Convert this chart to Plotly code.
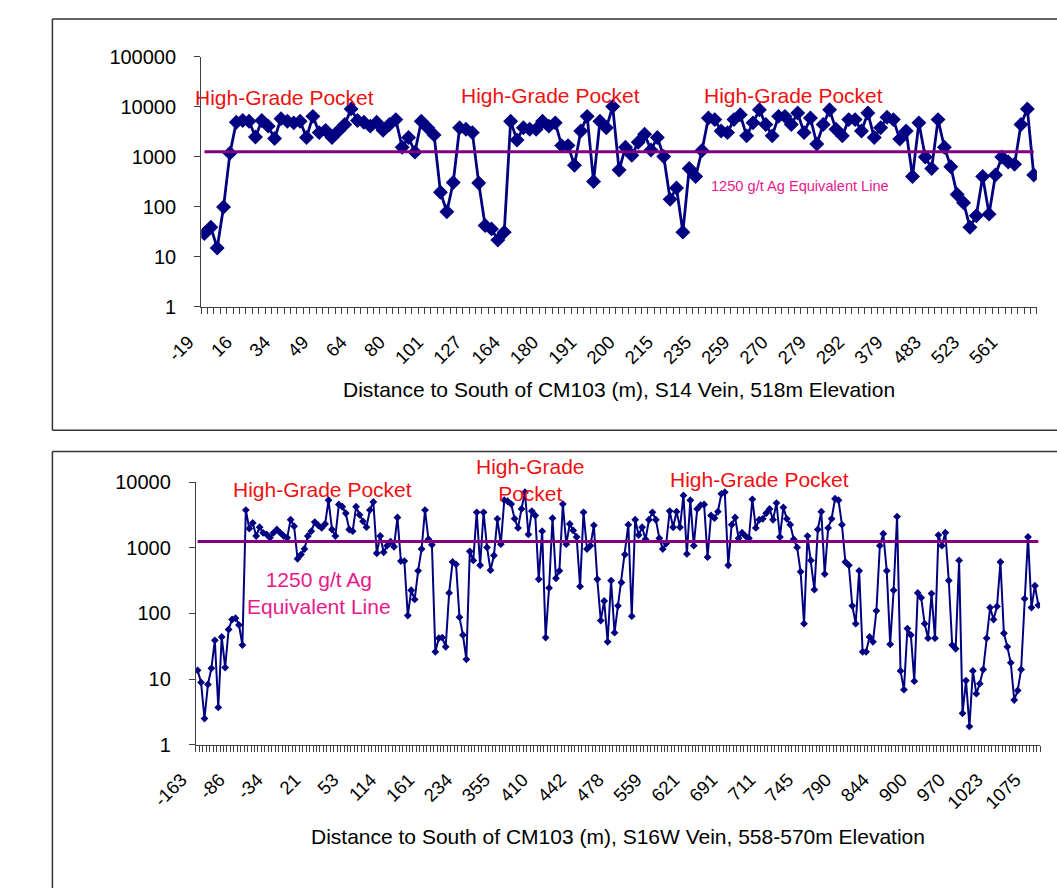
import numpy as np
import plotly.graph_objects as go

W, H = 1057, 888

# S14 Vein, 518m elevation: tick labels (every 6th sample) and Ag-equivalent grades (g/t)
top_tick_labels = ["-19", "16", "34", "49", "64", "80", "101", "127", "164", "180", "191",
                   "200", "215", "235", "259", "270", "279", "292", "379", "483", "523", "561"]
top_grade = [
    29, 39, 15, 99, 1175, 4870, 5250, 5090, 2480, 5250,
    4070, 2300, 5740, 5090, 4730, 5090, 2410, 6380, 3020, 3350,
    2410, 3250, 4390, 9000, 5250, 4870, 4070, 4870, 3350, 4390,
    5490, 1540, 2410, 1230, 5090, 3780, 2720, 195, 79, 305,
    3780, 3510, 3020, 296, 42, 36, 21.5, 31, 5090, 2140,
    3780, 3510, 3510, 5090, 4070, 4730, 1660, 1660, 675, 3250,
    6380, 319, 5090, 3780, 10000, 539, 1540, 1060, 1930, 2800,
    1360, 2410, 1010, 140, 237, 31, 581, 400, 1330, 5920,
    5490, 3250, 3020, 5490, 6870, 2600, 4730, 8610, 4390, 2600,
    6380, 6380, 4390, 7410, 3020, 5920, 1790, 4390, 8610, 3510,
    2600, 5490, 5490, 3250, 7410, 2410, 3780, 6100, 5490, 2240,
    3250, 400, 4730, 980, 581, 5490, 1540, 626, 175, 120,
    39, 66, 400, 71, 431, 980, 784, 706, 4390, 9000, 431,
]

# S16W Vein, 558-570m elevation: tick labels (every 11th sample) and grades (g/t)
bottom_tick_labels = ["-163", "-86", "-34", "21", "53", "114", "161", "234", "355", "410",
                      "442", "478", "559", "621", "691", "711", "745", "790", "844", "900",
                      "970", "1023", "1075"]
bottom_grade = [
    13.6, 8.9, 2.5, 8.3, 14.6, 39, 3.7, 44, 15, 57,
    81, 85, 67, 33, 3780, 1975, 2400, 1520, 2070, 1700,
    1610, 1435, 1700, 1910, 1700, 1520, 1435, 2690, 2140, 683,
    792, 962, 1520, 1800, 2480, 2210, 2020, 2315, 5330, 1910,
    1520, 4590, 4240, 3375, 1910, 1800, 4240, 3190, 2540, 2070,
    3780, 5030, 829, 1520, 859, 1080, 1250, 1042, 2910, 631,
    631, 93, 226, 164, 448, 962, 3780, 1355, 1116, 26,
    42, 43, 31, 206, 610, 562, 88, 47, 20, 888,
    645, 3490, 544, 3490, 1018, 458, 766, 2780, 1142, 5330,
    5150, 4660, 2790, 2020, 3930, 7080, 1608, 3650, 3120, 333,
    1800, 43, 245, 2840, 344, 448, 4660, 1142, 2315, 1845,
    1468, 259, 3490, 962, 1080, 2210, 333, 78, 155, 37,
    318, 51, 131, 297, 792, 2265, 91, 2690, 1571, 2066,
    1355, 2690, 3490, 2690, 1403, 962, 1168, 3650, 2066, 3570,
    2066, 6320, 811, 5330, 1080, 3930, 4490, 4590, 723, 3120,
    2840, 3570, 6690, 7080, 544, 2265, 2910, 1403, 1702, 1518,
    1403, 5510, 2020, 2690, 2780, 3375, 3930, 2690, 4820, 1468,
    4150, 2780, 2265, 1355, 1018, 433, 70, 1518, 645, 231,
    1909, 3570, 400, 2020, 2780, 5620, 5330, 2265, 610, 544,
    131, 70, 448, 26, 26, 44, 37, 110, 1080, 1645,
    448, 34, 226, 3010, 13.3, 6.9, 59, 47, 9.3, 206,
    174, 70, 42, 201, 42, 1571, 1080, 1702, 318, 33,
    29, 645, 3.0, 9.5, 1.9, 13.3, 6.0, 8.5, 14, 42,
    123, 81, 128, 610, 50, 31, 17.7, 4.8, 6.7, 14,
    168, 1468, 123, 265, 134,
]

cutoff_grade = 1250
decade_values = [1, 10, 100, 1000, 10000, 100000]

FONT = "Liberation Sans, Arial, sans-serif"
NAVY = "#000080"
PURPLE = "#800080"
RED = "#EE1111"
PINK = "#E8198B"
AXIS = "#404040"


def px(x):
    return x / W


def py(y):
    return 1 - y / H


top_x = np.arange(len(top_grade))
bot_x = np.arange(len(bottom_grade))

fig = go.Figure()

fig.add_trace(go.Scatter(
    x=top_x, y=top_grade, mode="lines+markers", xaxis="x", yaxis="y",
    line=dict(color=NAVY, width=2.8),
    marker=dict(symbol="diamond", size=11.5, color=NAVY),
))
fig.add_trace(go.Scatter(
    x=top_x, y=[cutoff_grade] * len(top_x), mode="lines", xaxis="x", yaxis="y",
    line=dict(color=PURPLE, width=3),
))
fig.add_trace(go.Scatter(
    x=bot_x, y=bottom_grade, mode="lines+markers", xaxis="x2", yaxis="y2",
    line=dict(color=NAVY, width=2),
    marker=dict(symbol="diamond", size=6, color=NAVY),
))
fig.add_trace(go.Scatter(
    x=bot_x, y=[cutoff_grade] * len(bot_x), mode="lines", xaxis="x2", yaxis="y2",
    line=dict(color=PURPLE, width=3),
))


def cat_axis(n, step, labels, left, right, anchor):
    return dict(
        domain=[px(left), px(right)], range=[-0.5, n - 0.5], anchor=anchor,
        tickmode="array", tickvals=list(range(0, n, step))[:len(labels)], ticktext=labels,
        tickangle=-45, ticks="", ticklabelstandoff=16, ticklabelshift=-16,
        tickfont=dict(family=FONT, size=18.5, color="#000"),
        showline=True, linecolor=AXIS, linewidth=1.2,
        showgrid=False, zeroline=False,
        minor=dict(ticks="outside", ticklen=6, tickcolor=AXIS, tickwidth=1,
                   tickmode="linear", tick0=-0.5, dtick=1, showgrid=False),
    )


def log_axis(top, bottom, decades, anchor):
    vals = decade_values[:decades + 1]
    return dict(
        type="log", domain=[py(bottom), py(top)], range=[0, decades], anchor=anchor,
        tickmode="array", tickvals=vals, ticktext=[str(v) for v in vals],
        ticks="outside", ticklen=6, tickcolor=AXIS, ticklabelstandoff=14,
        tickfont=dict(family=FONT, size=20, color="#000"),
        showline=True, linecolor=AXIS, linewidth=1.2,
        showgrid=False, zeroline=False,
    )


annotations = []


def note(text, x, y, size, color):
    annotations.append(dict(
        text=text, x=px(x), y=py(y), xref="paper", yref="paper",
        xanchor="center", yanchor="middle", showarrow=False,
        font=dict(family=FONT, size=size, color=color),
    ))


note("High-Grade Pocket", 249, 89, 21, RED)
note("High-Grade Pocket", 527, 87, 21, RED)
note("High-Grade Pocket", 781, 87, 21, RED)
note("1250 g/t Ag Equivalent Line", 788, 179, 14.6, PINK)
note("Distance to South of CM103 (m), S14 Vein, 518m Elevation", 599, 388, 21, "#000")

note("High-Grade Pocket", 289, 491, 21, RED)
note("High-Grade<br>Pocket", 507, 481, 21, RED)
note("High-Grade Pocket", 746, 480, 21, RED)
note("1250 g/t Ag<br>Equivalent Line", 285, 597, 21, PINK)
note("Distance to South of CM103 (m), S16W Vein, 558-570m Elevation", 598, 846, 21, "#000")

# panel frames (open on the right / bottom edges of the page)
frame = dict(color="#333", width=1.5)
shapes = [
    dict(type="line", xref="paper", yref="paper", x0=px(6.7), x1=px(1070), y0=py(8.3), y1=py(8.3), line=frame),
    dict(type="line", xref="paper", yref="paper", x0=px(6.7), x1=px(1070), y0=py(430), y1=py(430), line=frame),
    dict(type="line", xref="paper", yref="paper", x0=px(6.7), x1=px(6.7), y0=py(8.3), y1=py(430), line=frame),
    dict(type="line", xref="paper", yref="paper", x0=px(6.7), x1=px(1070), y0=py(451.7), y1=py(451.7), line=frame),
    dict(type="line", xref="paper", yref="paper", x0=px(6.7), x1=px(6.7), y0=py(451.7), y1=py(900), line=frame),
]

fig.update_layout(
    width=W, height=H, margin=dict(l=0, r=0, t=0, b=0),
    paper_bgcolor="white", plot_bgcolor="white", showlegend=False,
    xaxis=cat_axis(len(top_grade), 6, top_tick_labels, 162.3, 1036, "y"),
    yaxis=log_axis(46.7, 303.3, 5, "x"),
    xaxis2=cat_axis(len(bottom_grade), 11, bottom_tick_labels, 156.7, 1039.3, "y2"),
    yaxis2=log_axis(483.3, 752.3, 4, "x2"),
    annotations=annotations, shapes=shapes,
)

fig.write_html(
    "out.html",
    post_script="document.body.style.margin='0';document.body.style.overflow='hidden';",
)
